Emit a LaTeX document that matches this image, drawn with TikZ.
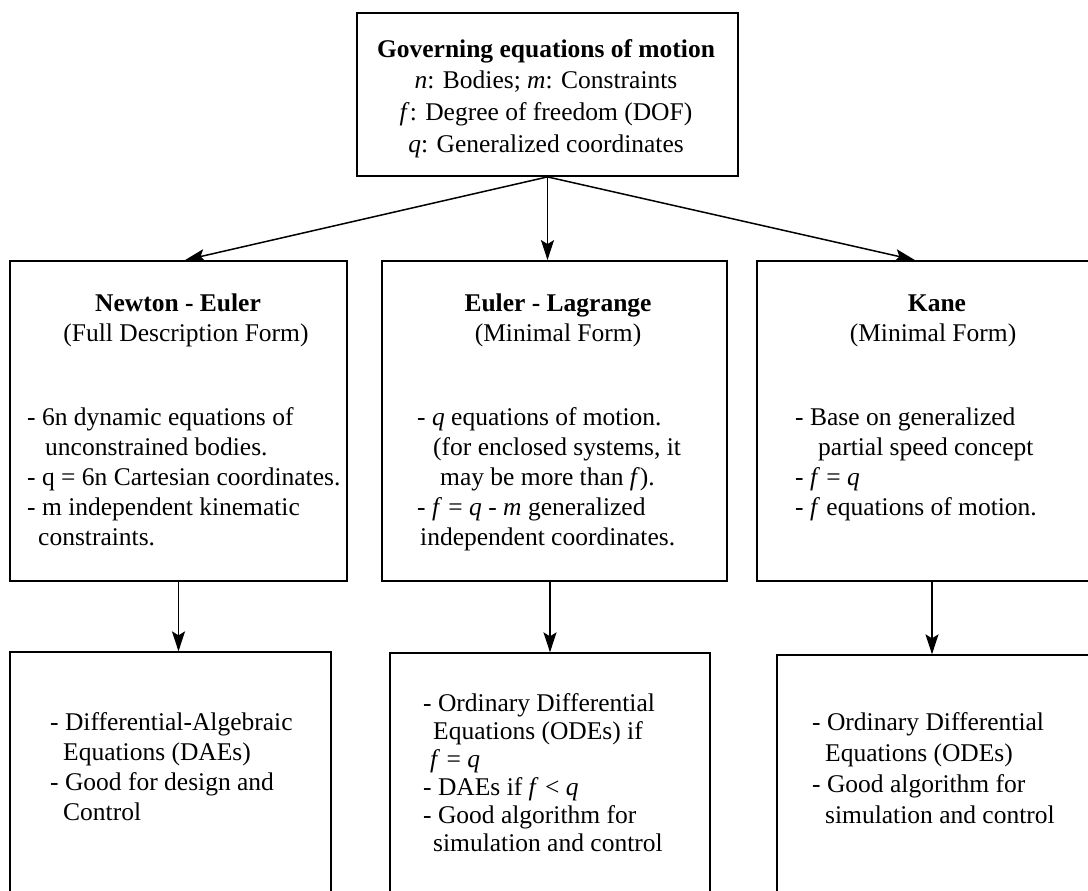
\documentclass[tikz,border=0pt]{standalone}
\usepackage{fontspec}
\setmainfont{Liberation Serif}
\usetikzlibrary{arrows.meta}
\begin{document}
\begin{tikzpicture}[x=1pt,y=-1pt,
  box/.style={draw,line width=1.8pt,rectangle,inner sep=0pt},
  lbox/.style={draw,line width=1.3pt,rectangle,inner sep=0pt},
  txt/.style={inner sep=0pt,align=left,anchor=north west,font=\fontsize{25.5}{30}\selectfont},
  head/.style={inner sep=0pt,anchor=base,font=\fontsize{25.5}{29}\selectfont},
  arr/.style={line width=1.5pt,-{Stealth[length=20pt,width=13pt,inset=4pt]}}]
\useasboundingbox (0,0) rectangle (1088,891);
\clip (0,0) rectangle (1088,891);
% boxes
\node[box,minimum width=381pt,minimum height=163pt] (top) at (547.5,94.5) {};
\node[inner sep=0pt,align=center,font=\fontsize{25.5}{31.7}\selectfont] (toptxt) at (546,98.5)
  {\textbf{Governing equations of motion}\\
   \textit{n}: Bodies; \textit{m}: Constraints\\
   \textit{f}: Degree of freedom (DOF)\\
   \textit{q}: Generalized coordinates};
\node[box,minimum width=337pt,minimum height=320pt] (ne) at (178.5,421) {};
\node[box,minimum width=345pt,minimum height=320pt] (el) at (554.5,421) {};
\node[box,minimum width=343pt,minimum height=320pt] (ka) at (928.5,421) {};
\node[lbox,minimum width=321pt,minimum height=258pt] (nb) at (170.5,781) {};
\node[lbox,minimum width=320pt,minimum height=257pt] (eb) at (550,781.5) {};
\node[lbox,minimum width=323pt,minimum height=255pt] (kb) at (938.5,782.5) {};
% headings
\node[head] (neh1) at (178,311) {\textbf{Newton - Euler}};
\node[head] (neh2) at (186,341) {(Full Description Form)};
\node[head] (elh1) at (558,311) {\textbf{Euler - Lagrange}};
\node[head] (elh2) at (558,341) {(Minimal Form)};
\node[head] (kah1) at (937,311) {\textbf{Kane}};
\node[head] (kah2) at (933,341) {(Minimal Form)};
% lists
\node[txt] (net) at (27,{425-0.7*30})
  {\strut- 6n dynamic equations of\\
   \hspace*{18pt}unconstrained bodies.\\
   - q = 6n Cartesian coordinates.\\
   - m independent kinematic\\
   \hspace*{11pt}constraints.};
\node[txt] (elt) at (417,{425-0.7*30})
  {\strut- \textit{q} equations of motion.\\
   \hspace*{16pt}(for enclosed systems, it\\
   \hspace*{23pt}may be more than \textit{f}).\\
   - \textit{f} = \textit{q} - \textit{m} generalized\\
   \hspace*{3pt}independent coordinates.};
\node[txt] (kat) at (795,{425-0.7*30})
  {\strut- Base on generalized\\
   \hspace*{23pt}partial speed concept\\
   - \textit{f} = \textit{q}\\
   - \textit{f} equations of motion.};
\node[txt] (nbt) at (50,{730-0.7*30})
  {\strut- Differential-Algebraic\\
   \hspace*{13pt}Equations (DAEs)\\
   - Good for design and\\
   \hspace*{13pt}Control};
\node[txt,font=\fontsize{25.5}{28}\selectfont] (ebt) at (423,{711-0.7*28})
  {\strut- Ordinary Differential\\
   \hspace*{10pt}Equations (ODEs) if\\
   \hspace*{7pt}\textit{f} = \textit{q}\\
   - DAEs if \textit{f} < \textit{q}\\
   - Good algorithm for\\
   \hspace*{10pt}simulation and control};
\node[txt,font=\fontsize{25.5}{31}\selectfont] (kbt) at (812,{730-0.7*31})
  {\strut- Ordinary Differential\\
   \hspace*{13pt}Equations (ODEs)\\
   - Good algorithm for\\
   \hspace*{13pt}simulation and control};
% connectors
\draw[arr] (top.south) -- ([xshift=6.5pt]ne.north);
\draw[arr] (top.south) -- (top.south |- el.north);
\draw[arr] (top.south) -- ([xshift=-13.5pt]ka.north);
\draw[arr] (ne.south) -- (ne.south |- nb.north);
\draw[arr] (eb.north |- el.south) -- (eb.north);
\coordinate (kx) at ([xshift=-6.5pt]kb.north);
\draw[arr] (kx |- ka.south) -- (kx);
\end{tikzpicture}
\end{document}
